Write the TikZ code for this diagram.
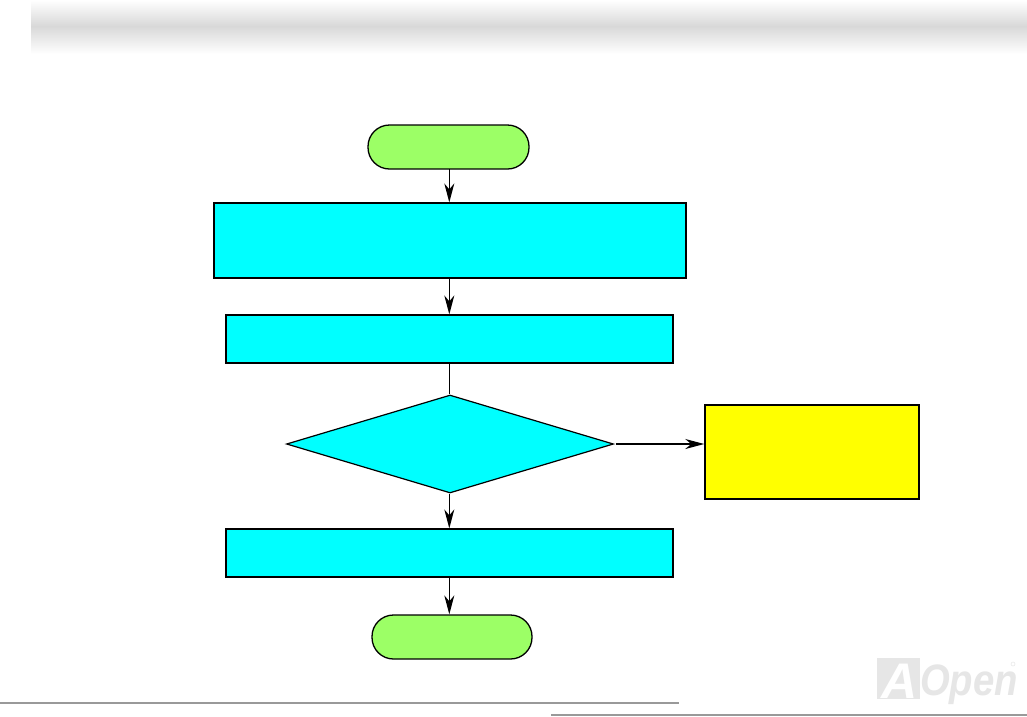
\documentclass[tikz,border=0pt]{standalone}
\usepackage{fontspec}
\setmainfont{Liberation Sans}
\usetikzlibrary{arrows.meta,shapes.geometric}
\definecolor{capgreen}{HTML}{9CFF66}
\definecolor{stepcyan}{HTML}{00FFFF}
\definecolor{noteyellow}{HTML}{FFFF00}
\definecolor{rulegray}{HTML}{999999}
\definecolor{bandgray}{HTML}{D8D8D8}
\definecolor{logogray}{HTML}{E6E6E6}
\tikzset{
  x=1pt,y=-1pt,
  capbox/.style={draw=black,line width=1.3pt,fill=capgreen,rounded corners=21.5pt,minimum height=44pt,inner sep=0pt},
  stepbox/.style={draw=black,line width=1.2pt,fill=stepcyan,inner sep=0pt},
  choicebox/.style={draw=black,line width=1.2pt,fill=stepcyan,diamond,inner sep=0pt,minimum width=327pt,minimum height=98pt,shape aspect=3.337},
  notebox/.style={draw=black,line width=1.5pt,fill=noteyellow,inner sep=0pt,minimum width=214pt,minimum height=94pt},
  flow/.style={draw=black,line width=1.5pt,-{Stealth[length=19pt,width=10pt,inset=6pt]}},
  trunk/.style={draw=black,line width=1.5pt},
  rulestyle/.style={draw=rulegray,line width=2pt},
  logotext/.style={font=\fontsize{50}{50}\selectfont\bfseries\itshape,inner sep=0pt,anchor=base west}
}
\begin{document}
\begin{tikzpicture}
\useasboundingbox (0,0) rectangle (1027,716);
\fill[white] (0,0) rectangle (1027,716);
% header band
\shade[top color=white,bottom color=bandgray] (31,0) rectangle (1027,26);
\shade[top color=bandgray,bottom color=white] (31,26) rectangle (1027,54);
% logo
\fill[logogray] (877,658) rectangle (920,699);
\node[logotext,text=white] (logoa) at (881,698) {A};
\node[logotext,text=logogray,xscale=.87,transform shape] (logob) at (920,695) {\fontsize{44}{44}\selectfont Open};
\node[draw=logogray,circle,line width=.5pt,minimum size=4pt,inner sep=0pt] (logoc) at (1013,664) {};
% footer rules
\coordinate (ruleaw) at (0,703);
\coordinate (ruleae) at (679,703);
\coordinate (rulebw) at (551,715);
\coordinate (rulebe) at (1027,715);
\draw[rulestyle] (ruleaw) -- (ruleae);
\draw[rulestyle] (rulebw) -- (rulebe);
% nodes
\node[capbox,minimum width=161pt] (start) at (448.5,147) {};
\node[stepbox,minimum width=472pt,minimum height=75pt] (one) at (450,240.5) {};
\node[stepbox,minimum width=447pt,minimum height=48pt] (two) at (449.5,339) {};
\node[choicebox] (choice) at (450,444) {};
\node[notebox] (note) at (812,452) {};
\node[stepbox,minimum width=447pt,minimum height=48pt] (three) at (449.5,553) {};
\node[capbox,minimum width=160pt] (stop) at (452,637) {};
% connectors
\coordinate (outstart) at (449.3,169);
\coordinate (choicegap) at ([xshift=2pt]choice.east);
\draw[flow] (outstart) -- (outstart |- one.north);
\draw[flow] (outstart |- one.south) -- (outstart |- two.north);
\draw[trunk] (outstart |- two.south) -- (outstart |- choice.north);
\draw[flow] (outstart |- choice.south) -- (outstart |- three.north);
\draw[flow] (outstart |- three.south) -- (outstart |- stop.north);
\draw[flow] (choicegap) -- (choicegap -| note.west);
\end{tikzpicture}
\end{document}
